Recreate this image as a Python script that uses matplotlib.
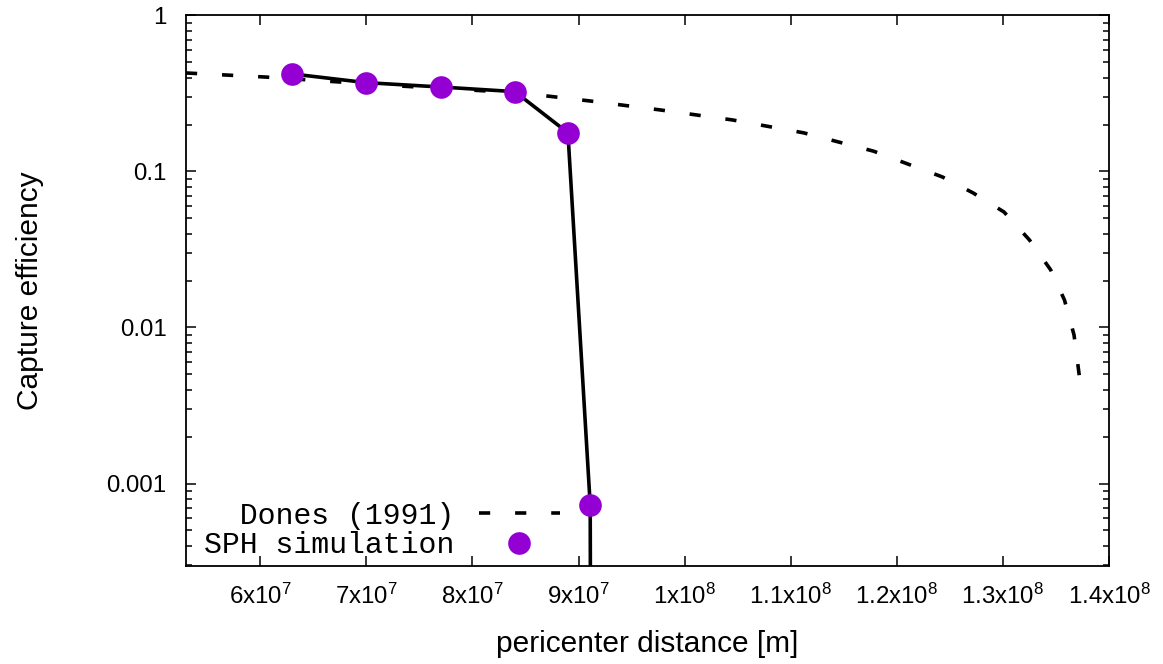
import numpy as np
import matplotlib
matplotlib.use("Agg")
import matplotlib.pyplot as plt
from matplotlib.ticker import LogLocator, FixedLocator, FixedFormatter, NullFormatter

plt.rcParams["font.family"] = ["Liberation Sans", "DejaVu Sans"]
plt.rcParams["mathtext.fontset"] = "custom"
plt.rcParams["mathtext.rm"] = "Liberation Sans"
plt.rcParams["mathtext.it"] = "Liberation Sans"

# SPH simulation (pericenter distance [m], capture efficiency)
sph_r = [6.30e7, 7.00e7, 7.70e7, 8.40e7, 8.90e7, 9.11e7, 9.12e7]
sph_eff = [0.422, 0.371, 0.348, 0.325, 0.177, 7.3e-4, 1e-6]

# Dones (1991) curve
dones_r = [5.30e7, 6.05e7, 7.32e7, 8.45e7, 9.11e7, 9.77e7, 1.045e8, 1.112e8,
           1.178e8, 1.243e8, 1.272e8, 1.301e8, 1.325e8, 1.345e8, 1.358e8,
           1.367e8, 1.372e8]
dones_eff = [0.428, 0.403, 0.353, 0.319, 0.283, 0.248, 0.214, 0.177,
             0.135, 0.0922, 0.0728, 0.0550, 0.0364, 0.0234, 0.0150,
             0.00896, 0.00489]

xticks = [6e7, 7e7, 8e7, 9e7, 1e8, 1.1e8, 1.2e8, 1.3e8, 1.4e8]
xticklabels = [r"6x10$^{7}$", r"7x10$^{7}$", r"8x10$^{7}$", r"9x10$^{7}$",
               r"1x10$^{8}$", r"1.1x10$^{8}$", r"1.2x10$^{8}$",
               r"1.3x10$^{8}$", r"1.4x10$^{8}$"]
yticks = [1e-3, 1e-2, 1e-1, 1.0]
yticklabels = ["0.001", "0.01", "0.1", "1"]

fig = plt.figure(figsize=(11.63, 6.64), dpi=100)
ax = fig.add_axes([0.1599, 0.1476, 0.7937, 0.8291])

purple = "#9400d3"
ax.plot(dones_r, dones_eff, color="black", lw=2.6, dashes=(3.1, 6.9),
        label="  Dones (1991)")
ax.plot(sph_r, sph_eff, color="black", lw=2.6, label="_nolegend_", zorder=3)
ax.plot(sph_r, sph_eff, "o", color=purple, ms=16.3, mew=0,
        label="SPH simulation", zorder=4)

ax.set_yscale("log")
ax.set_xlim(5.3e7, 1.4e8)
ax.set_ylim(2.96e-4, 1.0)

ax.xaxis.set_major_locator(FixedLocator(xticks))
ax.xaxis.set_major_formatter(FixedFormatter(xticklabels))
ax.yaxis.set_major_locator(FixedLocator(yticks))
ax.yaxis.set_major_formatter(FixedFormatter(yticklabels))
ax.yaxis.set_minor_locator(LogLocator(base=10, subs=np.arange(2, 10)))
ax.yaxis.set_minor_formatter(NullFormatter())

ax.tick_params(which="both", direction="in", top=True, right=True,
               width=1.1, labelsize=17.3, colors="black")
ax.tick_params(axis="x", which="major", length=7, pad=13)
ax.tick_params(axis="y", which="major", length=7, pad=14)
ax.tick_params(axis="y", which="minor", length=4)
for sp in ax.spines.values():
    sp.set_linewidth(1.3)

ax.set_xlabel("pericenter distance [m]", fontsize=21.5, labelpad=15)
ax.set_ylabel("Capture efficiency", fontsize=21.5, labelpad=45)

ax.legend(loc="lower left", bbox_to_anchor=(0.019, 0.012), frameon=False,
          markerfirst=False, numpoints=1, handlelength=2.7,
          handletextpad=0.85, labelspacing=0.05, borderpad=0, borderaxespad=0,
          prop={"family": "Liberation Mono", "size": 21.5})

fig.savefig("out.png", dpi=100)
